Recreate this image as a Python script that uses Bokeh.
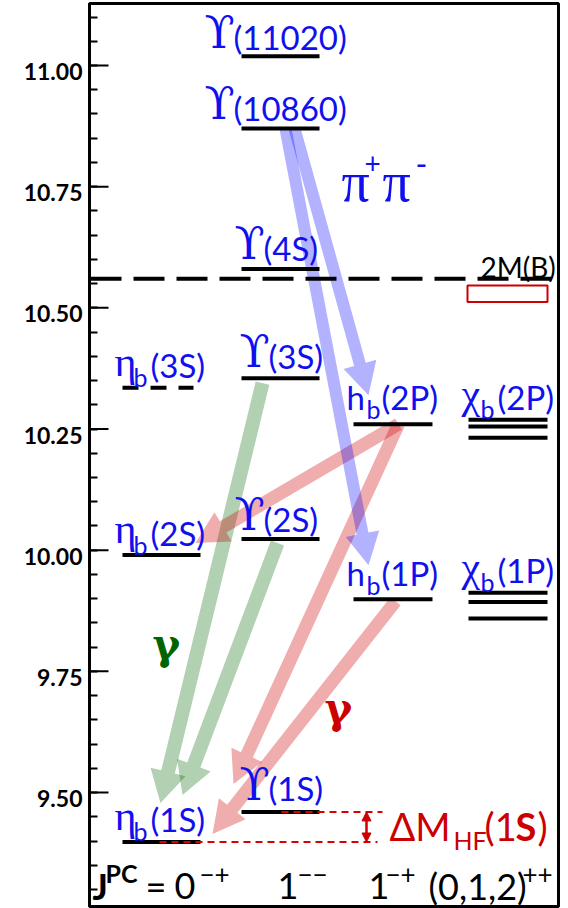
import numpy as np
from bokeh.plotting import figure
from bokeh.models import Range1d, FixedTicker, CustomJSTickFormatter, Arrow, NormalHead
from bokeh.core.properties import value
from bokeh.embed import file_html
from bokeh.resources import INLINE

# ---------------- data (masses in GeV) ----------------
upsilon_states = ["ϒ(11020)", "ϒ(10860)", "ϒ(4S)", "ϒ(3S)", "ϒ(2S)", "ϒ(1S)"]
upsilon_mass = [11.019, 10.870, 10.580, 10.355, 10.023, 9.460]
etab_states = ["ηb(3S)", "ηb(2S)", "ηb(1S)"]
etab_mass = [10.335, 9.990, 9.398]
hb_states = ["hb(2P)", "hb(1P)"]
hb_mass = [10.260, 9.899]
chib_states = ["χb(2P)", "χb(1P)"]
chib_2P_mass = [10.232, 10.255, 10.269]
chib_1P_mass = [9.859, 9.893, 9.912]
bb_threshold_label = "2M(B)"
bb_threshold = 10.560
bb_box = [10.512, 10.546]
ytick_values = [9.50, 9.75, 10.00, 10.25, 10.50, 10.75, 11.00]
yminor_values = [round(9.30 + 0.05 * i, 2) for i in range(37)]
pipi_transitions = [("ϒ(10860)", "hb(1P)"), ("ϒ(10860)", "hb(2P)")]
gamma_green_transitions = [("ϒ(3S)", "ηb(1S)"), ("ϒ(2S)", "ηb(1S)")]
gamma_red_transitions = [("hb(2P)", "ηb(2S)"), ("hb(2P)", "ηb(1S)"), ("hb(1P)", "ηb(1S)")]
jpc_values = ["0", "1", "1", "(0,1,2)"]
jpc_sup = ["−+", "−−", "−+", "++"]

mass = {}
for n, m in zip(upsilon_states, upsilon_mass): mass[n] = m
for n, m in zip(etab_states, etab_mass): mass[n] = m
for n, m in zip(hb_states, hb_mass): mass[n] = m

# ---------------- layout ----------------
W, H = 568, 908
FT, FB = 3, 906
Y_TOP, Y_BOT = 11.1279, 9.2649
PX = (FB - FT) / (Y_TOP - Y_BOT)
BASE_K = 0.38   # empirical baseline correction (fraction of font size)
LABEL_SHIFT = 6 / PX   # tick labels sit ~6px below their ticks

def py2m(py):
    return Y_TOP - (py - FT) / PX

def m2py(m):
    return FT + (Y_TOP - m) * PX

col_x = {"eta": (122, 200), "ups": (241, 319), "hb": (353, 432), "chi": (468, 547)}

p = figure(width=W, height=H, x_range=Range1d(89, 558), y_range=Range1d(Y_BOT, Y_TOP),
           output_backend="svg", toolbar_location=None, x_axis_type=None,
           min_border_left=89, min_border_right=10, min_border_top=FT, min_border_bottom=H - FB)
p.background_fill_color = "white"
p.border_fill_color = "white"
p.outline_line_color = "black"
p.outline_line_width = 3
p.xgrid.visible = False
p.ygrid.visible = False

ax = p.yaxis[0]
ax.ticker = FixedTicker(ticks=[v - LABEL_SHIFT for v in ytick_values], minor_ticks=yminor_values)
ax.formatter = CustomJSTickFormatter(args=dict(shift=LABEL_SHIFT), code="return (tick + shift).toFixed(2);")
ax.major_tick_line_color = None
ax.major_tick_in = 0
ax.major_tick_out = 0
ax.minor_tick_in = 8
ax.minor_tick_out = 0
ax.minor_tick_line_width = 2
ax.minor_tick_line_color = "black"
ax.axis_line_width = 3
ax.axis_line_color = "black"
ax.major_label_text_font = "Lato"
ax.major_label_text_font_style = "bold"
ax.major_label_text_font_size = "23px"
ax.major_label_text_color = "black"
ax.major_label_standoff = 7

# major ticks (inside the frame)
p.segment(x0=[89] * len(ytick_values), y0=ytick_values, x1=[108] * len(ytick_values), y1=ytick_values,
          line_color="black", line_width=2)


def txt(x, py, s, size, color="black", font="Lato", style="normal", align="left"):
    p.text(x=[x], y=[py2m(py - BASE_K * size)], text=[s], text_font=value(font),
           text_font_size=value(f"{size}px"), text_font_style=style, text_color=color,
           text_align=align, text_baseline="alphabetic")


# ---------------- arrows (translucent polygons) ----------------
def arrow_poly(sx, sy, tx, ty, w, hw, hl):
    s = np.array([sx, sy], float)
    t = np.array([tx, ty], float)
    d = t - s
    d /= np.hypot(*d)
    n = np.array([-d[1], d[0]])
    b = t - hl * d
    pts = [s + n * w / 2, b + n * w / 2, b + n * hw / 2, t, b - n * hw / 2, b - n * w / 2, s - n * w / 2]
    return [q[0] for q in pts], [py2m(q[1]) for q in pts]

# geometry: start x, start dy(px), tip x, tip dy(px)
arrow_geom = {
    ("ϒ(10860)", "hb(1P)"): (285, 0, 368, -34),
    ("ϒ(10860)", "hb(2P)"): (294, 0, 368, -29),
    ("ϒ(3S)", "ηb(1S)"): (262, 5, 160, -39),
    ("ϒ(2S)", "ηb(1S)"): (277, 4, 182, -47),
    ("hb(2P)", "ηb(2S)"): (398, 0, 195, -12),
    ("hb(2P)", "ηb(1S)"): (398, 0, 233, -58),
    ("hb(1P)", "ηb(1S)"): (395, 2, 212, -8),
}

def draw_arrows(trans, color, alpha, w, hw, hl):
    xs, ys = [], []
    for a, b in trans:
        sx, sdy, tx, tdy = arrow_geom[(a, b)]
        X, Y = arrow_poly(sx, m2py(mass[a]) + sdy, tx, m2py(mass[b]) + tdy, w, hw, hl)
        xs.append(X); ys.append(Y)
    p.patches(xs, ys, fill_color=color, fill_alpha=alpha, line_color=None)

draw_arrows(gamma_green_transitions, "#006400", 0.3, 14, 36, 32)
draw_arrows(gamma_red_transitions, "#cc0000", 0.32, 13, 34, 32)
draw_arrows(pipi_transitions, "#0000ff", 0.3, 12, 34, 32)

# ---------------- levels ----------------
LW = 4
x0, x1 = col_x["ups"]
p.segment(x0=[x0] * len(upsilon_mass), y0=upsilon_mass, x1=[x1] * len(upsilon_mass), y1=upsilon_mass,
          line_color="black", line_width=LW)
x0, x1 = col_x["eta"]
p.segment(x0=[x0] * 2, y0=etab_mass[1:], x1=[x1] * 2, y1=etab_mass[1:], line_color="black", line_width=LW)
p.segment(x0=[x0], y0=[etab_mass[0]], x1=[193], y1=[etab_mass[0]], line_color="black",
          line_width=LW, line_dash="16 12")
x0, x1 = col_x["hb"]
p.segment(x0=[x0] * 2, y0=hb_mass, x1=[x1] * 2, y1=hb_mass, line_color="black", line_width=LW)
x0, x1 = col_x["chi"]
chis = chib_2P_mass + chib_1P_mass
p.segment(x0=[x0] * 6, y0=chis, x1=[x1] * 6, y1=chis, line_color="black", line_width=LW)

# 2M(B) threshold
txt(480, m2py(bb_threshold) - 1, bb_threshold_label, 28, "black")
p.segment(x0=[90], y0=[bb_threshold], x1=[558], y1=[bb_threshold], line_color="black",
          line_width=4, line_dash="31 12")
p.quad(left=[467], right=[547], bottom=[bb_box[0]], top=[bb_box[1]], fill_color=None,
       line_color="#cc0000", line_width=2)

# hyperfine splitting
m_ups1S = upsilon_mass[-1]
m_eta1S = etab_mass[-1]
p.segment(x0=[281, 159], y0=[m_ups1S, m_eta1S], x1=[382, 377], y1=[m_ups1S, m_eta1S],
          line_color="#dd0000", line_width=2, line_dash="7 5")
p.add_layout(Arrow(start=NormalHead(size=9, fill_color="#cc0000", line_color="#cc0000"),
                   end=NormalHead(size=9, fill_color="#cc0000", line_color="#cc0000"),
                   x_start=366, y_start=m_ups1S, x_end=366, y_end=m_eta1S,
                   line_color="#cc0000", line_width=2.5))
txt(389, 840, "ΔM", 38, "#cc0000")
txt(453, 849, "HF", 25, "#cc0000")
txt(484, 840, "(1", 38, "#cc0000")
txt(515, 840, "S", 38, "#cc0000", style="bold")
txt(537, 840, ")", 38, "#cc0000")

# ---------------- level labels ----------------
BLUE = "#1010ee"
LBL = 33
label_x = {"ϒ(11020)": 204, "ϒ(10860)": 204, "ϒ(4S)": 234, "ϒ(3S)": 239, "ϒ(2S)": 234, "ϒ(1S)": 239,
           "ηb(3S)": 114, "ηb(2S)": 114, "ηb(1S)": 114, "hb(2P)": 346, "hb(1P)": 346}
label_dy = {"ϒ(11020)": 7, "ϒ(10860)": 8, "ϒ(4S)": 9, "ϒ(3S)": 10, "ϒ(2S)": 8, "ϒ(1S)": 11,
            "ηb(3S)": 10, "ηb(2S)": 10, "ηb(1S)": 10, "hb(2P)": 15, "hb(1P)": 14}

def level_label(name, x, base_py):
    sym = name[0]
    if name[1] == "b":
        sub, rest = "b", name[2:]
    else:
        sub, rest = "", name[1:]
    if sym == "ϒ":
        txt(x, base_py, sym, 44, BLUE, font="DejaVu Serif")
        txt(x + 29, base_py, rest, LBL, BLUE)
    elif sym == "h":
        txt(x, base_py, sym, LBL, BLUE)
        txt(x + 20, base_py + 9, sub, 25, BLUE)
        txt(x + 35, base_py, rest, LBL, BLUE)
    else:
        txt(x, base_py, sym, 42, BLUE, font="Liberation Serif")
        txt(x + 19, base_py + 9, sub, 25, BLUE)
        txt(x + 36, base_py, rest, LBL, BLUE)

for n in upsilon_states + etab_states + hb_states:
    level_label(n, label_x[n], m2py(mass[n]) - label_dy[n])
for n, ms in zip(chib_states, [chib_2P_mass, chib_1P_mass]):
    level_label(n, 461, m2py(max(ms)) - 10)

# ---------------- transition labels ----------------
txt(341, 203, "π", 56, BLUE, font="Liberation Serif")
txt(364, 174, "+", 28, BLUE)
txt(382, 203, "π", 56, BLUE, font="Liberation Serif")
txt(415, 176, "-", 32, BLUE)
txt(152, 660, "γ", 42, "#006400", font="DejaVu Serif", style="bold")
txt(324, 724, "γ", 42, "#cc0000", font="DejaVu Serif", style="bold")

# ---------------- J^PC row ----------------
txt(92, 899, "J", 36, style="bold")
txt(105, 882, "PC", 25, style="bold")
txt(145, 899, "=", 36)
jpc_x = [174, 277, 368, 428]
jpc_sup_x = [199, 297, 385, 522]
for v, s, xv, xs_ in zip(jpc_values, jpc_sup, jpc_x, jpc_sup_x):
    txt(xv, 899, v, 36)
    txt(xs_, 883, s, 26)

open("out.html", "w").write(file_html(p, INLINE))
